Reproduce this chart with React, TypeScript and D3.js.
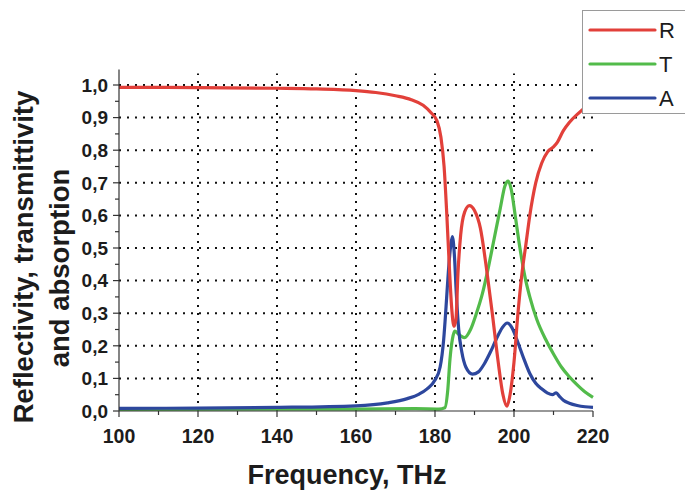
import React from "react";
import * as d3 from "d3";

const freqR = [100,120,140,150,160,165,170,174,177,179,180.5,181.5,182.3,183,183.6,184.2,184.8,185.3,185.8,186.5,187.5,188.7,190,191.5,193,194.5,196,197.2,198.2,199,200,201,202,203,204,205.5,207,208.5,210,211,212.5,214,216,218,220];
const valR = [0.993,0.992,0.99,0.988,0.983,0.977,0.967,0.955,0.938,0.915,0.89,0.84,0.75,0.6,0.45,0.32,0.26,0.28,0.42,0.54,0.61,0.63,0.615,0.56,0.44,0.3,0.15,0.05,0.015,0.05,0.15,0.3,0.42,0.51,0.6,0.7,0.76,0.795,0.81,0.825,0.86,0.885,0.91,0.93,0.94];

const freqT = [100,160,175,181,182.5,183.2,183.8,184.4,185,186,187.5,189,190.5,192,193.5,195,196.5,197.7,198.5,199.3,200.3,201.5,202.8,204,205.8,208,210,212,214,216,218,220];
const valT = [0.005,0.006,0.007,0.006,0.01,0.06,0.16,0.22,0.245,0.235,0.225,0.25,0.3,0.36,0.44,0.53,0.62,0.69,0.705,0.68,0.6,0.5,0.41,0.35,0.28,0.22,0.175,0.135,0.105,0.08,0.058,0.042];

const freqA = [100,120,140,160,168,173,176,178,180,181.3,182.2,182.8,183.4,184,184.4,184.9,185.4,186,186.8,187.8,189.5,191,192.5,194,195.5,197,198.3,199.5,201,202.5,204,205.5,207,208.5,209.7,210.7,211.5,212.5,214,216,218,220];
const valA = [0.008,0.009,0.011,0.016,0.025,0.038,0.052,0.068,0.095,0.135,0.22,0.32,0.43,0.51,0.535,0.48,0.36,0.25,0.18,0.135,0.113,0.12,0.145,0.18,0.22,0.255,0.27,0.255,0.21,0.16,0.115,0.085,0.068,0.055,0.05,0.056,0.045,0.033,0.024,0.017,0.013,0.011];

const xTicks = [100,120,140,160,180,200,220];
const xMinor = [110,130,150,170,190,210];
const yTicks = [0,0.1,0.2,0.3,0.4,0.5,0.6,0.7,0.8,0.9,1.0];
const yMinor = [0.05,0.15,0.25,0.35,0.45,0.55,0.65,0.75,0.85,0.95];
const seriesNames = ["R","T","A"];
const seriesColors = ["#e2403a","#52bb4a","#2d479d"];

export default function App() {
  const W = 685, H = 493;
  const x = d3.scaleLinear().domain([100,220]).range([119,593]);
  const y = d3.scaleLinear().domain([0,1]).range([411,85]);
  const yTop = y(1.035);
  const line = d3.line<[number,number]>().x(d=>x(d[0])).y(d=>y(d[1])).curve(d3.curveMonotoneX);
  const series = [
    freqR.map((f,i)=>[f,valR[i]] as [number,number]),
    freqT.map((f,i)=>[f,valT[i]] as [number,number]),
    freqA.map((f,i)=>[f,valA[i]] as [number,number]),
  ];
  const fmt = (v:number)=>v.toFixed(1).replace(".", ",");
  const font = "'Liberation Sans', Arial, sans-serif";
  const ink = "#1c1c1c";
  return (
    <svg width={W} height={H} style={{position:"absolute",left:0,top:0}} fontFamily={font}>
      <rect width={W} height={H} fill="#fff"/>
      {/* grid */}
      {yTicks.filter(v=>v>0).map(v=>(
        <line key={"gy"+v} x1={x(100)} x2={x(220)} y1={y(v)} y2={y(v)} stroke="#111" strokeWidth={2} strokeDasharray="2,6" strokeLinecap="butt"/>
      ))}
      {xTicks.filter(v=>v>100 && v<220).map(v=>(
        <line key={"gx"+v} x1={x(v)} x2={x(v)} y1={y(0)} y2={yTop} stroke="#111" strokeWidth={2} strokeDasharray="2,6"/>
      ))}
      {/* curves */}
      {[1,2,0].map(i=>(
        <path key={i} d={line(series[i]) || ""} fill="none" stroke={seriesColors[i]} strokeWidth={3.2} strokeLinejoin="round"/>
      ))}
      {/* axes */}
      <line x1={x(100)} x2={x(100)} y1={y(0)} y2={yTop-4} stroke="#333" strokeWidth={1.2}/>
      <line x1={x(100)} x2={x(220)} y1={y(0)} y2={y(0)} stroke="#333" strokeWidth={1.2}/>
      {yTicks.map(v=>(
        <g key={"yt"+v}>
          <line x1={x(100)-6} x2={x(100)} y1={y(v)} y2={y(v)} stroke="#333" strokeWidth={1.2}/>
          <text x={x(100)-11} y={y(v)} dy="0.36em" textAnchor="end" fontSize={19} fontWeight="bold" fill={ink}>{fmt(v)}</text>
        </g>
      ))}
      {yMinor.map(v=>(
        <line key={"ym"+v} x1={x(100)-4} x2={x(100)} y1={y(v)} y2={y(v)} stroke="#333" strokeWidth={1.2}/>
      ))}
      {xTicks.map(v=>(
        <g key={"xt"+v}>
          <line x1={x(v)} x2={x(v)} y1={y(0)} y2={y(0)+6} stroke="#333" strokeWidth={1.2}/>
          <text x={x(v)} y={443} textAnchor="middle" fontSize={19.5} fontWeight="bold" fill={ink}>{v}</text>
        </g>
      ))}
      {xMinor.map(v=>(
        <line key={"xm"+v} x1={x(v)} x2={x(v)} y1={y(0)} y2={y(0)+4} stroke="#333" strokeWidth={1.2}/>
      ))}
      {/* axis titles */}
      <text x={347} y={484} textAnchor="middle" fontSize={27} fontWeight="bold" fill={ink}>Frequency, THz</text>
      <text transform="translate(33,257) rotate(-90)" textAnchor="middle" fontSize={27.5} fontWeight="bold" fill={ink}>Reflectivity, transmittivity</text>
      <text transform="translate(69,268) rotate(-90)" textAnchor="middle" fontSize={27.5} fontWeight="bold" fill={ink}>and absorption</text>
      {/* legend */}
      <rect x={582.5} y={10.5} width={110} height={103} fill="#fff" stroke="#9a9a9a" strokeWidth={1}/>
      {seriesNames.map((n,i)=>{
        const ly = [30,64,98][i];
        return (
          <g key={n}>
            <line x1={590} x2={655} y1={ly} y2={ly} stroke={seriesColors[i]} strokeWidth={3.2} strokeLinecap="round"/>
            <text x={659} y={ly} dy="0.36em" fontSize={22} fill={ink}>{n}</text>
          </g>
        );
      })}
    </svg>
  );
}
